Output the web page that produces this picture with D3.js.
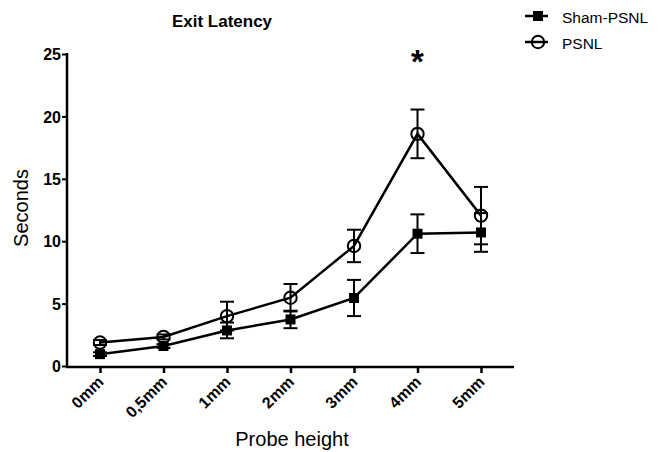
<!DOCTYPE html>
<html><head><meta charset="utf-8">
<script src="https://cdn.jsdelivr.net/npm/d3@7"></script>
<style>body{margin:0;background:#fff;} text{font-family:"Liberation Sans",Arial,sans-serif;}</style>
</head><body>
<svg id="chart" width="662" height="452"></svg>
<script>
const categories = ["0mm","0,5mm","1mm","2mm","3mm","4mm","5mm"];
const shamMean = [0.95, 1.6, 2.85, 3.73, 5.45, 10.6, 10.7];
const shamErr  = [0.15, 0.15, 0.63, 0.7, 1.45, 1.55, 1.55];
const psnlMean = [1.88, 2.33, 4.0, 5.47, 9.62, 18.6, 12.05];
const psnlErr  = [0.2, 0.2, 1.15, 1.1, 1.3, 1.95, 2.3];
const yTicks = [0,5,10,15,20,25];
const title = "Exit Latency";
const xLabel = "Probe height";
const yLabel = "Seconds";
const seriesNames = ["Sham-PSNL","PSNL"];

const svg = d3.select("#chart");
const x = d3.scalePoint().domain(categories).range([100,481]);
const y = d3.scaleLinear().domain([0,25]).range([366,54]);

// axes
const yAxis = svg.append("g").attr("transform","translate(67,0)")
  .call(d3.axisLeft(y).tickValues(yTicks).tickSize(5).tickPadding(1));
yAxis.select(".domain").attr("stroke","#000").attr("stroke-width",2.5).attr("d","M0,53V367");
yAxis.selectAll(".tick line").attr("stroke-width",2);
yAxis.selectAll("text").style("font-weight","bold").style("font-size","16px").attr("fill","#000").attr("dy","0.35em");

const xAxis = svg.append("g").attr("transform","translate(0,367)")
  .call(d3.axisBottom(x).tickSize(6));
xAxis.select(".domain").attr("stroke","#000").attr("stroke-width",2.5).attr("d","M66,0H514");
xAxis.selectAll(".tick line").attr("stroke-width",2.5);
xAxis.selectAll("text").style("font-weight","bold").style("font-size","16px").attr("fill","#000")
  .attr("text-anchor","end").attr("dy",null).attr("y",0)
  .attr("transform","translate(4,16) rotate(-45)");

// titles
svg.append("text").attr("x",222).attr("y",27).attr("text-anchor","middle")
  .style("font-weight","bold").style("font-size","17px").text(title);
svg.append("text").attr("x",292).attr("y",446).attr("text-anchor","middle")
  .style("font-size","20px").text(xLabel);
svg.append("text").attr("transform","translate(28,208) rotate(-90)").attr("text-anchor","middle")
  .style("font-size","20px").text(yLabel);

// significance
svg.append("text").attr("x",x("4mm")).attr("y",73).attr("text-anchor","middle")
  .style("font-weight","bold").style("font-size","33px").text("*");

function drawSeries(means, errs, marker){
  const data = categories.map((c,i)=>({c, m:means[i], e:errs[i]}));
  const g = svg.append("g");
  data.forEach(d=>{
    const cx = x(d.c);
    g.append("line").attr("x1",cx).attr("x2",cx).attr("y1",y(d.m+d.e)).attr("y2",y(d.m-d.e))
      .attr("stroke","#000").attr("stroke-width",2);
    [d.m+d.e, d.m-d.e].forEach(v=>g.append("line").attr("x1",cx-7).attr("x2",cx+7)
      .attr("y1",y(v)).attr("y2",y(v)).attr("stroke","#000").attr("stroke-width",2));
  });
  g.append("path").datum(data).attr("fill","none").attr("stroke","#000").attr("stroke-width",2.5)
    .attr("d",d3.line().x(d=>x(d.c)).y(d=>y(d.m)));
  data.forEach(d=>{
    if(marker==="square") g.append("rect").attr("x",x(d.c)-5).attr("y",y(d.m)-5).attr("width",10).attr("height",10).attr("fill","#000");
    else g.append("circle").attr("cx",x(d.c)).attr("cy",y(d.m)).attr("r",6.2).attr("fill","none").attr("stroke","#000").attr("stroke-width",2);
  });
}
drawSeries(psnlMean, psnlErr, "circle");
drawSeries(shamMean, shamErr, "square");

// legend
const leg = svg.append("g");
seriesNames.forEach((n,i)=>{
  const yy = 16 + i*26;
  leg.append("line").attr("x1",525).attr("x2",548).attr("y1",yy).attr("y2",yy).attr("stroke","#000").attr("stroke-width",2.5);
  if(i===0) leg.append("rect").attr("x",533).attr("y",yy-5).attr("width",10).attr("height",10).attr("fill","#000");
  else leg.append("circle").attr("cx",538).attr("cy",yy).attr("r",6.2).attr("fill","none").attr("stroke","#000").attr("stroke-width",2);
  leg.append("text").attr("x",562).attr("y",yy+6.5).style("font-size","15.5px").text(n);
});
</script>
</body></html>
